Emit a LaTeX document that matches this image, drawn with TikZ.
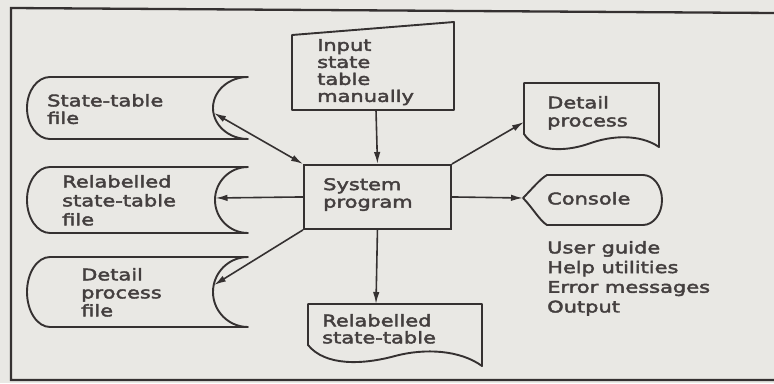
\documentclass[tikz,border=0pt]{standalone}
\usepackage{fontspec}
\setmainfont{DejaVu Sans}[FakeStretch=1.31, FakeBold=2.6]
\usetikzlibrary{arrows.meta}
\definecolor{paper}{HTML}{E9E8E4}
\definecolor{ink}{HTML}{353131}
\definecolor{txt}{HTML}{443F3F}
\begin{document}
\begin{tikzpicture}[x=1pt,y=-1pt,
  shapeline/.style={draw=ink, line width=1.9pt, line join=round},
  frameline/.style={draw=ink, line width=2.3pt},
  flow/.style={draw=ink, line width=1.6pt, -{Latex[length=12pt,width=6.5pt]}},
  biflow/.style={draw=ink, line width=1.6pt, {Latex[length=12pt,width=6.5pt]}-{Latex[length=12pt,width=6.5pt]}},
  lbl/.style={text=txt, inner sep=0pt, anchor=north west, align=left},
  sp/.style={font=\fontsize{16}{#1}\selectfont}]

% paper and page size
\fill[paper] (0,0) rectangle (774,383);
\useasboundingbox (0,0) rectangle (774,383);

% outer frame
\draw[frameline] (774,13) -- (11,8) -- (11,380) -- (774,380);

% manual input
\draw[shapeline] (292,35) -- (454,22) -- (454,110) -- (292,110) -- cycle;
\coordinate (inS) at (376,110);
\node[lbl, sp=17] (tInput) at (317,39) {Input\\state\\table\\manually};

% system program
\node[draw=ink, line width=1.9pt, minimum width=147pt, minimum height=64pt,
      inner sep=0pt, anchor=north west] (sys) at (303,164) {};
\node[lbl, sp=17.5] (tSys) at (323,178) {System\\program};

% stored data files
\draw[shapeline] (50,77) -- (248,77) .. controls (228.7,77) and (213,90.9) .. (213,108)
  .. controls (213,125.1) and (228.7,139) .. (248,139) -- (50,139)
  .. controls (37.3,139) and (27,125.1) .. (27,108)
  .. controls (27,90.9) and (37.3,77) .. (50,77) -- cycle;
\coordinate (fileA) at (214,113);
\node[lbl, sp=17.5] (tFileA) at (47,94) {State-table\\file};

\draw[shapeline] (50,167) -- (248,167) .. controls (229.7,167) and (215,181.8) .. (215,200)
  .. controls (215,218.2) and (229.7,233) .. (248,233) -- (50,233)
  .. controls (37.3,233) and (27,218.2) .. (27,200)
  .. controls (27,181.8) and (37.3,167) .. (50,167) -- cycle;
\coordinate (fileB) at (215.5,198);
\node[lbl, sp=19] (tFileB) at (62,175) {Relabelled\\state-table\\file};

\draw[shapeline] (50,257) -- (248,257) .. controls (228.7,257) and (213,272.7) .. (213,292)
  .. controls (213,311.3) and (228.7,327) .. (248,327) -- (50,327)
  .. controls (37.3,327) and (27,311.3) .. (27,292)
  .. controls (27,272.7) and (37.3,257) .. (50,257) -- cycle;
\coordinate (fileC) at (214,285);
\node[lbl, sp=18] (tFileC) at (81,268) {Detail\\process\\file};

% printed documents
\draw[shapeline] (524,83) -- (659,83) -- (659,147)
  .. controls (640,134) and (612,135) .. (588,144)
  .. controls (564,152) and (536,152) .. (524,134) -- cycle;
\coordinate (docA) at (524,122);
\node[lbl, sp=18] (tDocA) at (547,96) {Detail\\process};

\draw[shapeline] (308,304) -- (482,304) -- (482,366)
  .. controls (460,350) and (425,348) .. (395,356)
  .. controls (362,365) and (325,366) .. (308,345) -- cycle;
\coordinate (docB) at (376,304);
\node[lbl, sp=17] (tDocB) at (322,314) {Relabelled\\state-table};

% display
\draw[shapeline] (523,198) .. controls (532,189) and (540,179) .. (547,175) -- (643,175)
  .. controls (653.5,175) and (662,186.2) .. (662,200)
  .. controls (662,213.8) and (653.5,225) .. (643,225) -- (547,225)
  .. controls (540,221) and (532,207) .. (523,198) -- cycle;
\coordinate (con) at (523,198);
\node[lbl, sp=17] (tCon) at (547,192) {Console};

% console services
\node[lbl, sp=19.7] (tList) at (547,241) {User guide\\Help utilities\\Error messages\\Output};

% connectors
\draw[flow] (inS) -- (sys.north);
\draw[biflow] (fileA) -- (sys.north west);
\draw[flow] (sys.west) -- (fileB);
\draw[flow] (sys.south west) -- (fileC);
\draw[flow] (sys.south) -- (docB);
\draw[flow] (sys.east) -- (con);
\draw[flow] (sys.north east) -- (docA);
\end{tikzpicture}
\end{document}
